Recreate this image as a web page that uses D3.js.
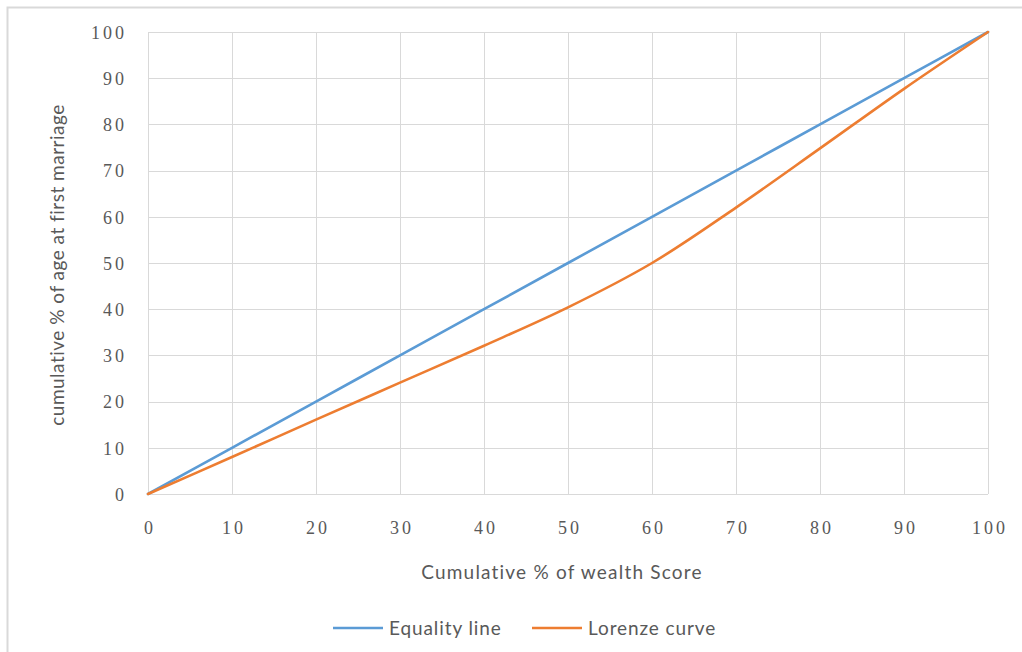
<!DOCTYPE html>
<html>
<head>
<meta charset="utf-8">
<script src="https://cdn.jsdelivr.net/npm/d3@7"></script>
<style>
  html, body { margin: 0; padding: 0; background: #fff; }
  svg { display: block; }
  .tick-label { font-family: "Liberation Serif", "DejaVu Serif", serif; font-size: 18px; fill: #595959; letter-spacing: 3px; }
  .title { font-family: "Lato", "Open Sans", sans-serif; font-size: 19px; fill: #595959; letter-spacing: 1.2px; }
  .title.vertical { letter-spacing: 0.5px; }
  .legend { font-family: "Lato", "Open Sans", sans-serif; font-size: 19px; fill: #595959; letter-spacing: 0.9px; }
</style>
</head>
<body>
<script>
// Cumulative shares (%) for the Lorenz analysis
const wealthPct   = [0, 10, 20, 30, 40, 50, 60, 70, 80, 90, 100];
const equality    = [0, 10, 20, 30, 40, 50, 60, 70, 80, 90, 100];
const lorenze     = [0, 8, 16.1, 24.1, 32.1, 40.4, 50, 62, 74.8, 87.7, 100];
const xTicks      = [0, 10, 20, 30, 40, 50, 60, 70, 80, 90, 100];
const yTicks      = [0, 10, 20, 30, 40, 50, 60, 70, 80, 90, 100];
const seriesNames = ["Equality line", "Lorenze curve"];
const seriesColors = ["#5b9bd5", "#ed7d31"];

const W = 1022, H = 652;
const plot = { left: 148, right: 988, top: 32, bottom: 494 };

const svg = d3.select("body").append("svg").attr("width", W).attr("height", H);

// chart frame
svg.append("rect")
  .attr("x", 7.5).attr("y", 7.5).attr("width", W + 20).attr("height", H + 20)
  .attr("fill", "#fff").attr("stroke", "#d9d9d9").attr("stroke-width", 2);

const x = d3.scaleLinear().domain([0, 100]).range([plot.left, plot.right]);
const y = d3.scaleLinear().domain([0, 100]).range([plot.bottom, plot.top]);

// gridlines
const grid = svg.append("g").attr("stroke", "#d9d9d9").attr("stroke-width", 1).attr("shape-rendering", "crispEdges");
grid.selectAll(".gx").data(xTicks).join("line")
  .attr("x1", d => Math.round(x(d)) + 0.5).attr("x2", d => Math.round(x(d)) + 0.5)
  .attr("y1", plot.top).attr("y2", plot.bottom);
grid.selectAll(".gy").data(yTicks).join("line")
  .attr("y1", d => Math.round(y(d)) + 0.5).attr("y2", d => Math.round(y(d)) + 0.5)
  .attr("x1", plot.left).attr("x2", plot.right);

// axes (labels only, lines come from the grid)
const xAxis = svg.append("g").attr("transform", `translate(0,${plot.bottom})`)
  .call(d3.axisBottom(x).tickValues(xTicks).tickSize(0).tickPadding(0).tickFormat(d3.format("d")));
xAxis.select(".domain").remove();
xAxis.selectAll("text").attr("class", "tick-label").attr("dy", null).attr("y", 40).attr("x", 1.5)
  .attr("font-family", null).attr("font-size", null).attr("fill", null);

const yAxis = svg.append("g").attr("transform", `translate(${plot.left},0)`)
  .call(d3.axisLeft(y).tickValues(yTicks).tickSize(0).tickPadding(0).tickFormat(d3.format("d")));
yAxis.select(".domain").remove();
yAxis.selectAll("text").attr("class", "tick-label").attr("x", -21).attr("dy", "0.35em")
  .attr("font-family", null).attr("font-size", null).attr("fill", null);

// series lines
const series = [equality, lorenze];
const line = d3.line().x((d, i) => x(wealthPct[i])).y(d => y(d)).curve(d3.curveCatmullRom.alpha(0.5));
svg.append("g").selectAll("path").data(series).join("path")
  .attr("d", d => line(d))
  .attr("fill", "none")
  .attr("stroke", (d, i) => seriesColors[i])
  .attr("stroke-width", 2.6)
  .attr("stroke-linecap", "round")
  .attr("stroke-linejoin", "round");

// axis titles
svg.append("text").attr("class", "title")
  .attr("x", 562).attr("y", 579).attr("text-anchor", "middle")
  .text("Cumulative % of wealth Score");
svg.append("text").attr("class", "title vertical")
  .attr("transform", "translate(64,265) rotate(-90)").attr("text-anchor", "middle")
  .text("cumulative % of age at first marriage");

// legend
const legendItems = [{ x: 333 }, { x: 532 }];
const lg = svg.append("g").selectAll("g").data(seriesNames).join("g")
  .attr("transform", (d, i) => `translate(${legendItems[i].x},628)`);
lg.append("line").attr("x1", 0).attr("x2", 50).attr("y1", 0).attr("y2", 0)
  .attr("stroke", (d, i) => seriesColors[i]).attr("stroke-width", 2.6);
lg.append("text").attr("class", "legend").attr("x", 56).attr("dy", "0.35em").text(d => d);
</script>
</body>
</html>
